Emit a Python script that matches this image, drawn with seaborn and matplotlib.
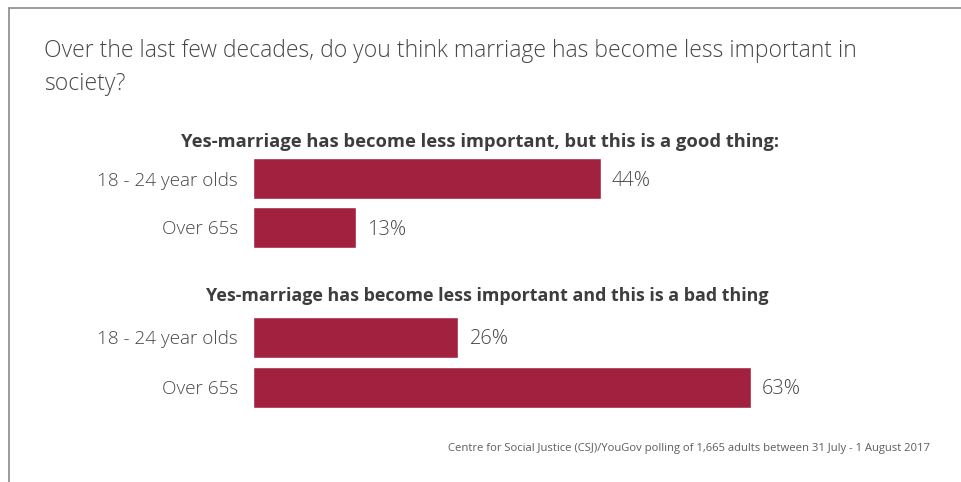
import matplotlib
matplotlib.use("Agg")
import matplotlib.pyplot as plt
import seaborn as sns
import pandas as pd

# Survey results (% of respondents)
age_groups = ["18 - 24 year olds", "Over 65s"]
good_thing = [44, 13]
bad_thing = [26, 63]

question = "Over the last few decades, do you think marriage has become less important in\nsociety?"
heading_good = "Yes-marriage has become less important, but this is a good thing:"
heading_bad = "Yes-marriage has become less important and this is a bad thing"
source = "Centre for Social Justice (CSJ)/YouGov polling of 1,665 adults between 31 July - 1 August 2017"

sns.set_theme(style="white")
plt.rcParams["font.family"] = ["Open Sans", "DejaVu Sans"]

BAR = "#A2213F"
TEXT = "#474747"
W, H = 962, 482

fig = plt.figure(figsize=(W / 100, H / 100), dpi=100)
fig.patch.set_facecolor("white")


def px_axes(x0, y0, x1, y1):
    return fig.add_axes([x0 / W, 1 - y1 / H, (x1 - x0) / W, (y1 - y0) / H])


def panel(ax, values):
    df = pd.DataFrame({"group": age_groups, "pct": values})
    sns.barplot(data=df, x="pct", y="group", orient="h", color=BAR,
                saturation=1, width=0.82, ax=ax)
    ax.set_xlim(0, 80)
    ax.set_ylim(1.5, -0.5)
    ax.set_xlabel("")
    ax.set_ylabel("")
    ax.set_xticks([])
    ax.tick_params(axis="y", length=0, pad=11, labelsize=13.6, labelcolor=TEXT)
    for lbl in ax.get_yticklabels():
        lbl.set_fontweight("light")
    sns.despine(ax=ax, left=True, bottom=True)
    ax.set_facecolor("none")
    for i, v in enumerate(values):
        ax.text(v + 1.4, i + 0.05, f"{v}%", va="center", ha="left",
                fontsize=14.4, color=TEXT, fontweight="light")


ax1 = px_axes(253, 154, 885, 252)
panel(ax1, good_thing)
ax2 = px_axes(253, 312, 885, 412)
panel(ax2, bad_thing)

fig.text(44 / W, 1 - 39 / H, question, ha="left", va="top",
         fontsize=16.5, color=TEXT, fontweight="light", linespacing=1.5)
fig.text(480 / W, 1 - 142 / H, heading_good, ha="center", va="center",
         fontsize=13.2, color="#3d3d3d", fontweight="bold")
fig.text(487 / W, 1 - 296 / H, heading_bad, ha="center", va="center",
         fontsize=12.9, color="#3d3d3d", fontweight="bold")
fig.text(930 / W, 1 - 448 / H, source, ha="right", va="center",
         fontsize=8.15, color="#5e5e5e")

# frame: top and left rules
fig.add_artist(plt.Line2D([9 / W, 1], [1 - 8 / H, 1 - 8 / H], color="#8a8a8a", lw=1.2))
fig.add_artist(plt.Line2D([9 / W, 9 / W], [0, 1 - 8 / H], color="#8a8a8a", lw=1.2))

fig.savefig("out.png", dpi=100, facecolor="white")
